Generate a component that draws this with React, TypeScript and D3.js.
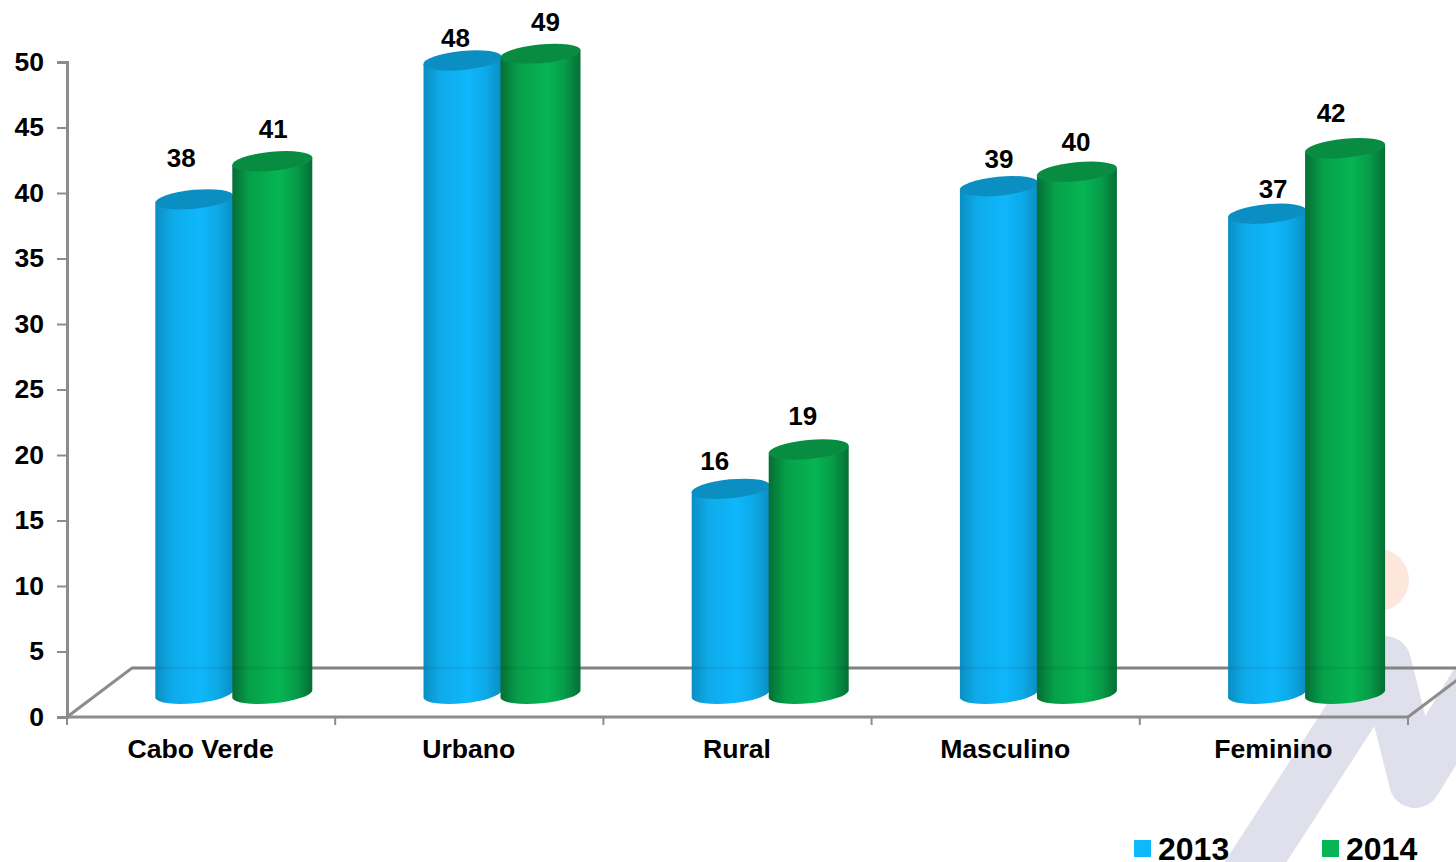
import * as d3 from "d3";
import { useRef, useEffect } from "react";

const categories = ["Cabo Verde", "Urbano", "Rural", "Masculino", "Feminino"];
const years = ["2013", "2014"];
const values2013 = [37.8, 48.4, 15.7, 38.8, 36.7];
const values2014 = [40.7, 48.9, 18.7, 39.9, 41.7];
const yTicks = [0, 5, 10, 15, 20, 25, 30, 35, 40, 45, 50];

// label nudges off the bar top, the source chart has them hand placed
const labelDx = [
  [-13, 1],
  [-7, 5],
  [-16, -6],
  [0, -1],
  [6, -14],
];
const labelDy = [
  [-41.5, -32.5],
  [-22.5, -31.5],
  [-27.5, -34],
  [-27, -29.5],
  [-24.5, -35.5],
];

const FONT = "'Liberation Sans', Arial, sans-serif";
const AXIS = "#8c8c8c";
const width = 1456;
const height = 862;

function App() {
  const ref = useRef<SVGSVGElement>(null);

  useEffect(() => {
    draw();
  }, []);

  const draw = () => {
    const svg = d3.select(ref.current);
    svg.selectAll("*").remove();

    const x = d3.scaleBand().domain(categories).range([67, 1408]);
    const y = d3.scaleLinear().domain([0, 50]).range([717, 62]);
    const seriesX = d3.scaleOrdinal<string, number>().domain(years).range([88.3, 165.3]);
    const seriesW = d3.scaleOrdinal<string, number>().domain(years).range([78, 80]);
    const color = d3.scaleOrdinal<string, string>().domain(years).range(["#0fb7fb", "#06b553"]);
    const capColor = d3.scaleOrdinal<string, string>().domain(years).range(["#0b8fc2", "#078c42"]);
    const edgeColor = d3.scaleOrdinal<string, string>().domain(years).range(["#0a8ec2", "#056e35"]);

    // floor depth of the fake 3d box
    const depthX = 65;
    const depthY = 49;
    const barLift = 22.5;
    const tilt = -5.5;

    const defs = svg.append("defs");
    years.forEach((yr) => {
      const g = defs.append("linearGradient").attr("id", "grad" + yr);
      g.append("stop").attr("offset", "0%").attr("stop-color", edgeColor(yr));
      g.append("stop").attr("offset", "22%").attr("stop-color", d3.interpolateRgb(edgeColor(yr), color(yr))(0.7));
      g.append("stop").attr("offset", "58%").attr("stop-color", color(yr));
      g.append("stop").attr("offset", "80%").attr("stop-color", d3.interpolateRgb(color(yr), edgeColor(yr))(0.35));
      g.append("stop").attr("offset", "100%").attr("stop-color", edgeColor(yr));
    });

    // watermark logo behind the chart
    svg.append("circle").attr("cx", 1378).attr("cy", 580).attr("r", 31).attr("fill", "#fde6dc");
    svg
      .append("path")
      .attr("d", "M1231,900L1385,662L1415,782L1490,660")
      .attr("fill", "none")
      .attr("stroke", "#dfe0ec")
      .attr("stroke-width", 52)
      .attr("stroke-linecap", "round")
      .attr("stroke-linejoin", "round");

    // floor
    const floor = svg.append("g").attr("fill", "none").attr("stroke", AXIS).attr("stroke-width", 3);
    floor.append("path").attr("d", `M${x.range()[0]},${y(0)}L${x.range()[0] + depthX},${y(0) - depthY}L${width},${y(0) - depthY}`);
    floor.append("path").attr("d", `M${x.range()[1]},${y(0)}L${x.range()[1] + depthX},${y(0) - depthY}`);

    // y axis
    const yAxis = svg
      .append("g")
      .attr("transform", `translate(${x.range()[0]},0)`)
      .call(d3.axisLeft(y).tickValues(yTicks).tickSize(10).tickPadding(13));
    yAxis.selectAll("path").attr("stroke", AXIS).attr("stroke-width", 3);
    yAxis.selectAll("line").attr("stroke", AXIS).attr("stroke-width", 2);
    yAxis
      .selectAll("text")
      .attr("font-family", FONT)
      .attr("font-size", 26.5)
      .attr("font-weight", "bold")
      .attr("fill", "#000");

    // x axis
    const edges = [...categories.map((c) => x(c) as number), x.range()[1]];
    const xAxis = svg.append("g");
    xAxis
      .append("line")
      .attr("x1", x.range()[0])
      .attr("x2", x.range()[1])
      .attr("y1", y(0))
      .attr("y2", y(0))
      .attr("stroke", AXIS)
      .attr("stroke-width", 3);
    xAxis
      .selectAll("line.tick")
      .data(edges)
      .join("line")
      .attr("class", "tick")
      .attr("x1", (d) => d)
      .attr("x2", (d) => d)
      .attr("y1", y(0))
      .attr("y2", y(0) + 8)
      .attr("stroke", AXIS)
      .attr("stroke-width", 2);
    xAxis
      .selectAll("text")
      .data(categories)
      .join("text")
      .attr("x", (d) => (x(d) as number) + x.bandwidth() / 2 - 0.5)
      .attr("y", 758)
      .attr("text-anchor", "middle")
      .attr("font-family", FONT)
      .attr("font-size", 26.6)
      .attr("font-weight", "bold")
      .text((d) => d);

    // cylinders
    const series = [values2013, values2014];
    const dy = (w: number) => (w / 2) * Math.tan((-tilt * Math.PI) / 180);
    years.forEach((yr, s) => {
      const w = seriesW(yr);
      const rx = w / 2 + 0.3;
      const ry = 9.5;
      const g = svg.append("g");
      const bars = g
        .selectAll("g")
        .data(series[s].map((v, i) => ({ v, i, cat: categories[i] })))
        .join("g");

      bars
        .append("path")
        .attr("fill", `url(#grad${yr})`)
        .attr("d", (d) => {
          const x0 = (x(d.cat) as number) + seriesX(yr);
          const x1 = x0 + w;
          const top = y(d.v) - barLift;
          const bot = y(0) - barLift;
          const t = dy(w);
          return (
            `M${x0},${top + t}L${x0},${bot + t}` +
            `A${rx},${ry} ${tilt} 0 0 ${x1},${bot - t}` +
            `L${x1},${top - t}` +
            `A${rx},${ry} ${tilt} 0 1 ${x0},${top + t}Z`
          );
        });

      bars
        .append("ellipse")
        .attr("rx", rx)
        .attr("ry", ry)
        .attr("fill", capColor(yr))
        .attr("transform", (d) => {
          const cx = (x(d.cat) as number) + seriesX(yr) + w / 2;
          return `translate(${cx},${y(d.v) - barLift}) rotate(${tilt})`;
        });
    });

    // floor line shows faintly through the bars
    svg
      .append("line")
      .attr("x1", x.range()[0] + depthX)
      .attr("x2", width)
      .attr("y1", y(0) - depthY)
      .attr("y2", y(0) - depthY)
      .attr("stroke", "#000")
      .attr("stroke-opacity", 0.06)
      .attr("stroke-width", 3);

    // value labels
    years.forEach((yr, s) => {
      svg
        .append("g")
        .selectAll("text")
        .data(series[s])
        .join("text")
        .attr("x", (d, i) => (x(categories[i]) as number) + seriesX(yr) + seriesW(yr) / 2 + labelDx[i][s])
        .attr("y", (d, i) => y(d) - barLift + labelDy[i][s] + 9)
        .attr("text-anchor", "middle")
        .attr("font-family", FONT)
        .attr("font-size", 26)
        .attr("font-weight", "bold")
        .text((d) => d3.format(".0f")(d));
    });

    // legend
    const legendX = d3.scaleOrdinal<string, number>().domain(years).range([1134, 1322]);
    const legend = svg
      .append("g")
      .selectAll("g")
      .data(years)
      .join("g")
      .attr("transform", (d) => `translate(${legendX(d)},840)`);
    legend.append("rect").attr("width", 17).attr("height", 17).attr("fill", (d) => color(d));
    legend
      .append("text")
      .attr("x", 24)
      .attr("y", 20)
      .attr("font-family", FONT)
      .attr("font-size", 32)
      .attr("font-weight", "bold")
      .text((d) => d);
  };

  return (
    <svg
      ref={ref}
      width={width}
      height={height}
      style={{ position: "absolute", left: 0, top: 0, display: "block", background: "#fff" }}
    ></svg>
  );
}

export default App;
